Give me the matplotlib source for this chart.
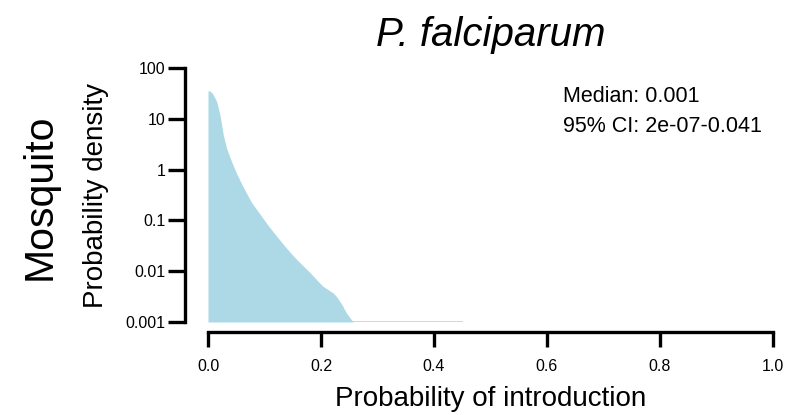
import numpy as np
import matplotlib
matplotlib.use("Agg")
import matplotlib.pyplot as plt

plt.rcParams['font.family'] = ['Liberation Sans', 'DejaVu Sans']

# density (log-scale y)
prob = [0.0, 0.003, 0.0065, 0.0094, 0.0153, 0.0212, 0.0271, 0.033, 0.042,
        0.0507, 0.0625, 0.077, 0.092, 0.107, 0.1215, 0.136, 0.151, 0.166,
        0.181, 0.195, 0.204, 0.213, 0.222, 0.228, 0.237, 0.245, 0.257, 0.45]
density = [35.5, 35.5, 33, 29.5, 21.9, 11.9, 4.8, 2.6, 1.41,
           0.83, 0.45, 0.225, 0.133, 0.078, 0.049, 0.031, 0.020, 0.0135,
           0.0093, 0.0063, 0.0050, 0.0043, 0.0037, 0.0031, 0.0022, 0.0015, 0.001, 0.001]
y_ticks = [0.001, 0.01, 0.1, 1, 10, 100]
y_ticklabels = ['0.001', '0.01', '0.1', '1', '10', '100']
x_ticks = [0.0, 0.2, 0.4, 0.6, 0.8, 1.0]
median_txt = 'Median: 0.001'
ci_txt = '95% CI: 2e-07-0.041'

fig = plt.figure(figsize=(7.88, 4.15), dpi=100)
ax = fig.add_axes([208/788, 1 - 322/415, 565/788, 254/415])

fill_col = '#ADD8E6'
ax.fill_between(prob, 0.001, density, color=fill_col, linewidth=0)
ax.plot(prob[-2:], density[-2:], color=fill_col, lw=1.2)

ax.set_yscale('log')
ax.set_xlim(0, 1)
ax.set_ylim(0.001, 100)
ax.set_yticks(y_ticks)
ax.set_yticklabels(y_ticklabels)
ax.minorticks_off()
ax.set_xticks(x_ticks)
ax.set_xticklabels(['%.1f' % v for v in x_ticks])

for s in ['top', 'right']:
    ax.spines[s].set_visible(False)
ax.spines['left'].set_position(('outward', 16.5))
ax.spines['bottom'].set_position(('outward', 7.5))
ax.spines['left'].set_linewidth(2.4)
ax.spines['bottom'].set_linewidth(2.4)
ax.spines['left'].set_bounds(0.001, 100)
ax.spines['bottom'].set_bounds(0, 1)
ax.tick_params(axis='y', length=12, width=2.4, labelsize=11.5, pad=2)
ax.tick_params(axis='x', length=11, width=2.4, labelsize=11.5, pad=8)

ax.set_xlabel('Probability of introduction', fontsize=20, labelpad=9)
ax.set_ylabel('Probability density', fontsize=20, labelpad=12)
ax.set_title('P. falciparum', fontsize=29, style='italic', pad=16)

fig.text(563/788, 1 - 96/415, median_txt, fontsize=15.5, va='center', ha='left')
fig.text(563/788, 1 - 127/415, ci_txt, fontsize=15.5, va='center', ha='left')

fig.text(40/788, 1 - 197/415, 'Mosquito', rotation=90, fontsize=29.5,
         ha='center', va='center')

plt.savefig('out.png', dpi=100)
